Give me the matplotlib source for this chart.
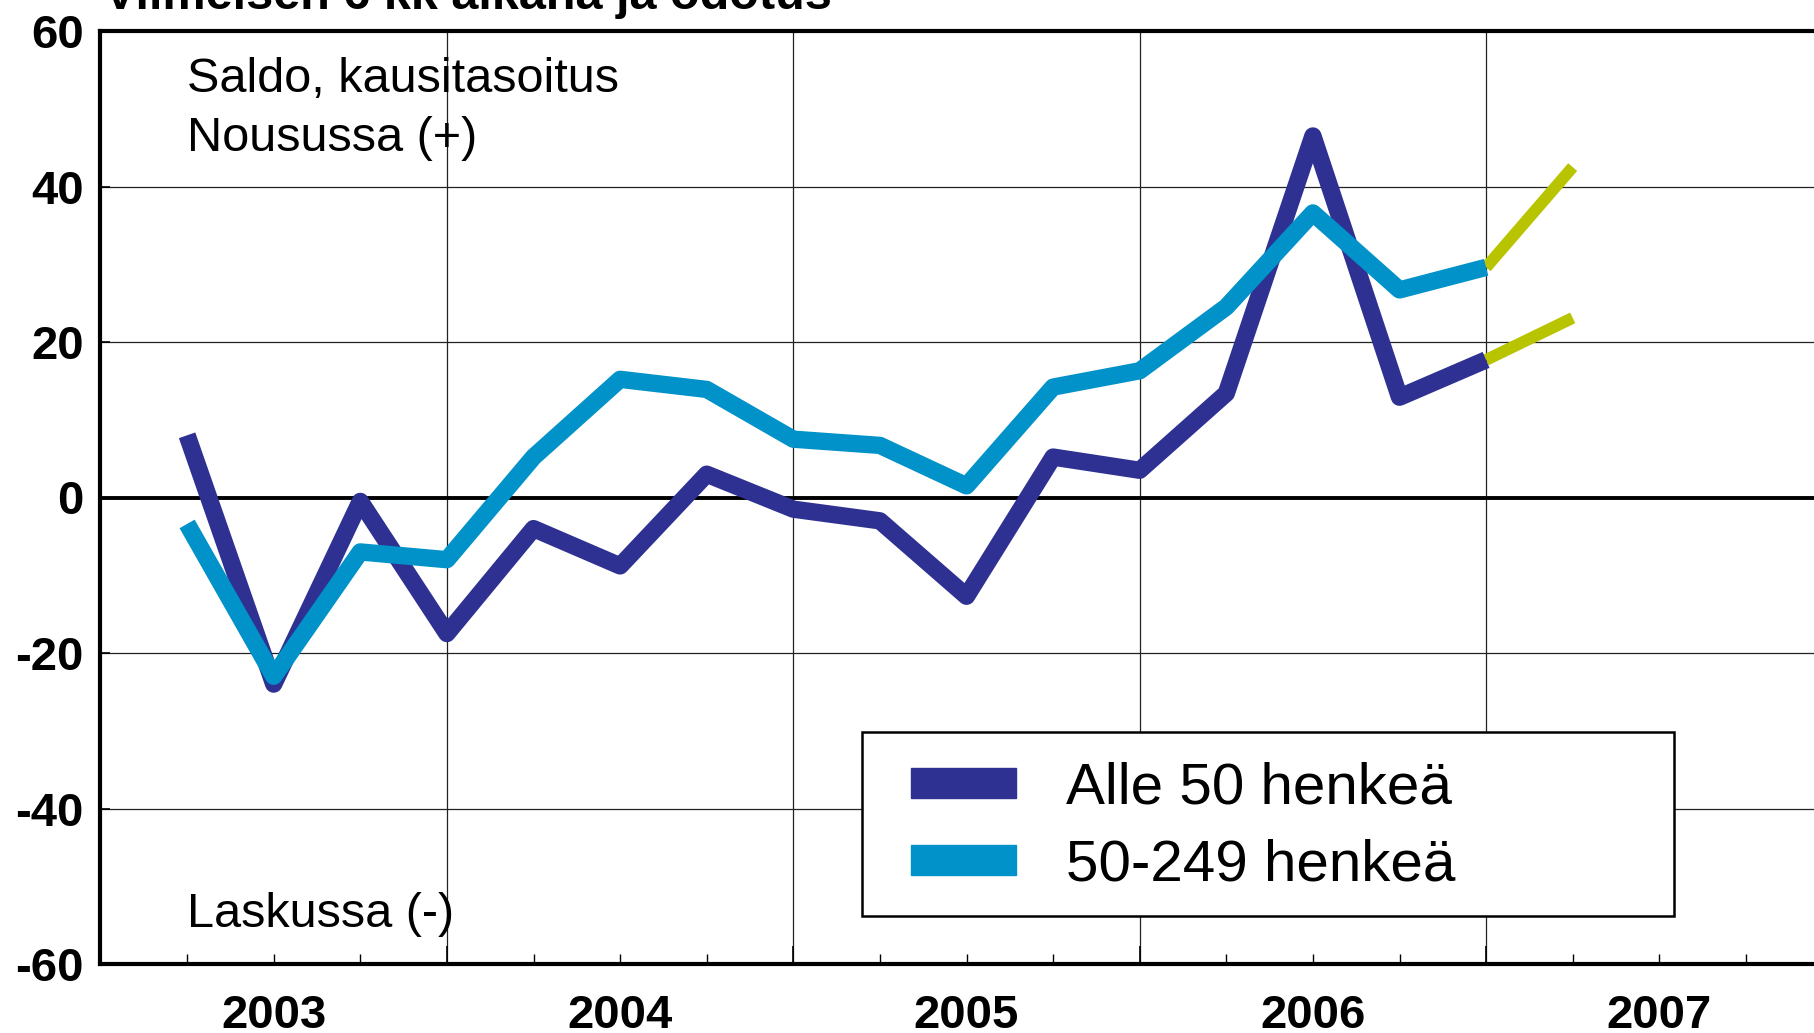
import matplotlib
matplotlib.use('Agg')
import matplotlib.pyplot as plt
from matplotlib.patches import Patch, Rectangle

# quarters on x axis: 0 = start of 2003, one unit per quarter
quarters = list(range(1, 17))
small_firms = [8, -24, -0.5, -17.5, -4, -8.8, 3, -1.5, -3, -12.7, 5.2, 3.5, 13.4, 46.5, 12.9, 17.7]
medium_firms = [-3.4, -23, -7, -8, 5.2, 15.2, 13.9, 7.5, 6.7, 1.5, 14.2, 16.3, 24.5, 36.6, 26.7, 29.6]
# expectation (odotus)
forecast_q = [16, 17]
small_forecast = [17.7, 23.1]
medium_forecast = [29.6, 42.5]

years = ['2003', '2004', '2005', '2006', '2007']
yticks = [-60, -40, -20, 0, 20, 40, 60]

dark = '#2E3192'
light = '#0092C8'
green = '#B9C400'

plt.rcParams['font.family'] = ['Liberation Sans', 'DejaVu Sans']

W, H = 1815, 1033
fig = plt.figure(figsize=(W / 100, H / 100), dpi=100)
# axes run past the right edge like in the original
ax = fig.add_axes([100.5 / W, 1 - 964 / H, 20 * 86.6 / W, (964 - 31) / H])
ax.set_xlim(0, 20)
ax.set_ylim(-60, 60)

# grid
for y in [-40, -20, 20, 40]:
    ax.axhline(y, color='#222222', lw=0.9, zorder=1)
for x in [4, 8, 12, 16]:
    ax.axvline(x, color='#222222', lw=0.9, zorder=1)
ax.axhline(0, color='black', lw=2.8, zorder=2)

# forecast under the actual lines
ax.plot(forecast_q, small_forecast, color=green, lw=8.5, solid_capstyle='butt', zorder=3)
ax.plot(forecast_q, medium_forecast, color=green, lw=8.5, solid_capstyle='butt', zorder=3)

ax.plot(quarters, small_firms, color=dark, lw=12.5, solid_joinstyle='round',
        solid_capstyle='butt', zorder=4, label='Alle 50 henkeä')
ax.plot(quarters, medium_firms, color=light, lw=12.5, solid_joinstyle='round',
        solid_capstyle='butt', zorder=5, label='50-249 henkeä')

# spines
for s in ['left', 'top', 'bottom']:
    ax.spines[s].set_linewidth(3)
ax.spines['right'].set_visible(False)

ax.set_yticks(yticks)
ax.set_yticklabels([str(v) for v in yticks], fontsize=34, fontweight='bold')
ax.tick_params(axis='y', direction='in', length=7, width=1.2, pad=12)
ax.set_xticks([4, 8, 12, 16])
ax.set_xticks(range(1, 20), minor=True)
ax.set_xticklabels([])
ax.tick_params(axis='x', which='major', direction='in', length=13, width=1.2)
ax.tick_params(axis='x', which='minor', direction='in', length=7, width=1.0)

for i, yr in enumerate(years):
    ax.text(2 + 4 * i, -0.0686, yr, transform=ax.get_xaxis_transform(),
            ha='center', va='baseline', fontsize=34, fontweight='bold')

ax.text(1, 52.2, 'Saldo, kausitasoitus', fontsize=35, va='baseline')
ax.text(1, 44.6, 'Nousussa (+)', fontsize=35, va='baseline')
ax.text(1, -55.2, 'Laskussa (-)', fontsize=35, va='baseline')

fig.text(104 / W, 1 - 9 / H, 'Viimeisen 6 kk aikana ja odotus', fontsize=35,
         fontweight='bold', va='baseline')

# legend box
fig.patches.append(Rectangle((862 / W, 1 - 916 / H), (1674 - 862) / W, (916 - 732) / H,
                             transform=fig.transFigure, facecolor='white',
                             edgecolor='black', lw=1.8, zorder=10))
handles = [Patch(color=dark), Patch(color=light)]
leg = fig.legend(handles, ['Alle 50 henkeä', '50-249 henkeä'], loc='upper left',
                 bbox_to_anchor=(911 / W, 1 - 762 / H), frameon=False, fontsize=42,
                 borderpad=0, borderaxespad=0, handlelength=1.8, handleheight=0.43,
                 handletextpad=0.85, labelspacing=0.39)
leg.set_zorder(11)

fig.savefig('out.png', dpi=100)
